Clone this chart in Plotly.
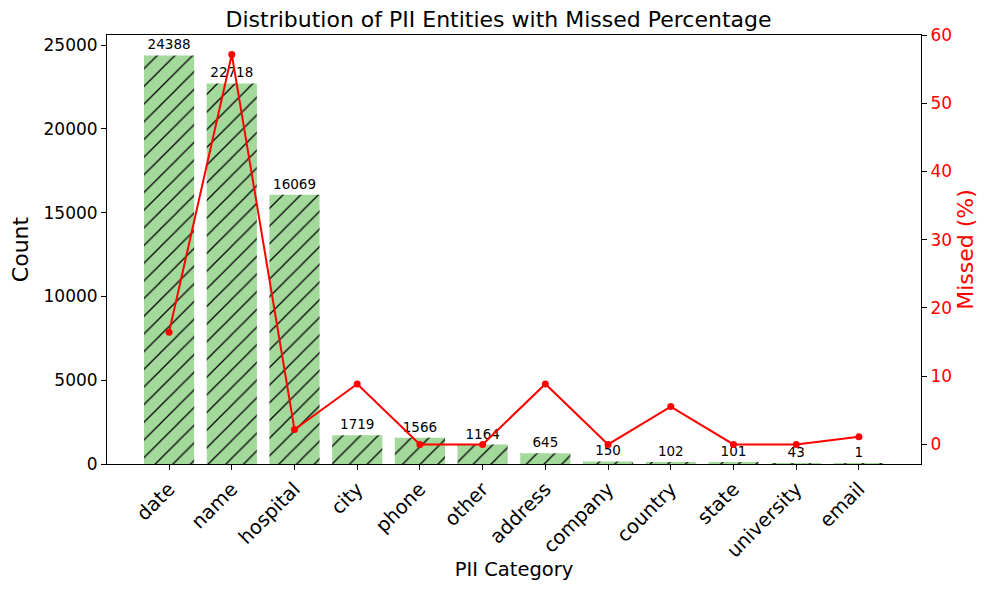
import plotly.graph_objects as go

categories = ["date", "name", "hospital", "city", "phone", "other", "address",
              "company", "country", "state", "university", "email"]
counts = [24388, 22718, 16069, 1719, 1566, 1164, 645, 150, 102, 101, 43, 1]
missed_pct = [16.46, 57.14, 2.19, 8.87, 0.0, 0.0, 8.87, 0.0, 5.55, 0.0, 0.0, 1.12]
count_ticks = [0, 5000, 10000, 15000, 20000, 25000]
pct_ticks = [0, 10, 20, 30, 40, 50, 60]

FONT = "DejaVu Sans"
GREEN = "#a3d99b"

fig = go.Figure()
fig.add_trace(go.Bar(
    x=categories, y=counts,
    marker=dict(color=GREEN, line=dict(width=0),
                pattern=dict(shape="/", fgcolor="black", bgcolor=GREEN,
                             size=12.5, solidity=0.1, fillmode="replace")),
    text=[str(c) for c in counts], textposition="outside",
    textfont=dict(family=FONT, size=13.5, color="black"),
    cliponaxis=False, yaxis="y", showlegend=False,
))
fig.add_trace(go.Scatter(
    x=categories, y=missed_pct, mode="lines+markers",
    line=dict(color="red", width=2), marker=dict(color="red", size=7),
    yaxis="y2", showlegend=False,
))

fig.update_layout(
    width=981, height=582,
    margin=dict(l=99, r=68, t=27, b=126),
    paper_bgcolor="white", plot_bgcolor="white",
    font=dict(family=FONT, color="black"),
    bargap=0.2,
    title=dict(text="Distribution of PII Entities with Missed Percentage",
               x=0.5, xanchor="center", y=0.981, yanchor="middle",
               font=dict(family=FONT, size=22, color="black")),
    xaxis=dict(range=[-0.99, 11.99], showline=True, linecolor="black", linewidth=1,
               mirror=True, ticks="outside", ticklen=5, tickcolor="black",
               tickangle=-45, tickfont=dict(family=FONT, size=19.5),
               title=dict(text="PII Category", font=dict(family=FONT, size=19.5), standoff=1),
               showgrid=False, automargin=False),
    yaxis=dict(range=[0, 25607], showline=True, linecolor="black", linewidth=1,
               ticks="outside", ticklen=5, tickcolor="black",
               tickvals=count_ticks, ticktext=[str(v) for v in count_ticks],
               tickfont=dict(family=FONT, size=17),
               title=dict(text="Count", font=dict(family=FONT, size=22), standoff=10),
               showgrid=False, zeroline=False, automargin=False),
    yaxis2=dict(range=[-2.86, 60.0], overlaying="y", side="right",
                showline=True, linecolor="black", linewidth=1,
                ticks="outside", ticklen=5, tickcolor="black",
                tickvals=pct_ticks, ticktext=[str(v) for v in pct_ticks],
                tickfont=dict(family=FONT, size=17, color="red"),
                title=dict(text="Missed (%)", font=dict(family=FONT, size=22, color="red"), standoff=6),
                showgrid=False, zeroline=False, automargin=False),
)

fig.write_html("out.html")
